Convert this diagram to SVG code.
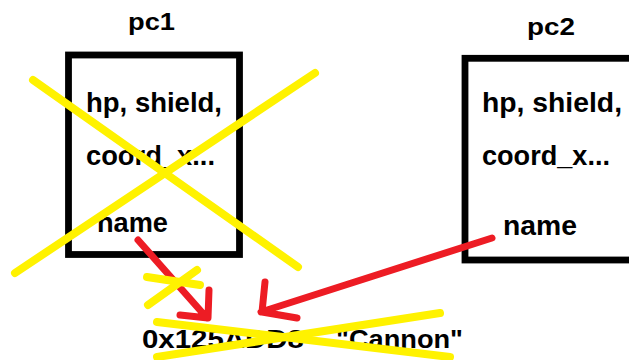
<svg xmlns="http://www.w3.org/2000/svg" width="629" height="360" viewBox="0 0 629 360">
<style>
.box{fill:#fff;stroke:#000;stroke-width:6.8}
.t{font-family:"Liberation Sans",Arial,sans-serif;font-weight:bold;fill:#000}
.f{font-size:27px}
.lbl{font-size:24px}
.red{fill:none;stroke:#ED1C24;stroke-width:7;stroke-linecap:round;stroke-linejoin:round}
.yel{fill:none;stroke:#FFF200;stroke-width:8;stroke-linecap:round}
</style>
<rect width="629" height="360" fill="#fff"/>
<g id="pc1">
<text class="t lbl" x="128" y="30" textLength="47" lengthAdjust="spacingAndGlyphs">pc1</text>
<rect class="box" x="68.5" y="55" width="171" height="199.5"/>
<text class="t f" x="86" y="112" textLength="136" lengthAdjust="spacingAndGlyphs">hp, shield,</text>
<text class="t f" x="86" y="165" textLength="129" lengthAdjust="spacingAndGlyphs">coord_x...</text>
<text class="t f" x="97" y="232" textLength="71" lengthAdjust="spacingAndGlyphs">name</text>
</g>
<g id="pc2">
<text class="t lbl" x="527" y="35" textLength="48" lengthAdjust="spacingAndGlyphs">pc2</text>
<rect class="box" x="465" y="58.3" width="200" height="201.7"/>
<text class="t f" x="482" y="112" textLength="140" lengthAdjust="spacingAndGlyphs">hp, shield,</text>
<text class="t f" x="482" y="165" textLength="128" lengthAdjust="spacingAndGlyphs">coord_x...</text>
<text class="t f" x="503" y="235" textLength="74" lengthAdjust="spacingAndGlyphs">name</text>
</g>
<g id="value">
<text class="t" font-size="25" x="142" y="348" textLength="162" lengthAdjust="spacingAndGlyphs">0x125ADD8</text>
<text class="t" font-size="25" x="336" y="348" textLength="127" lengthAdjust="spacingAndGlyphs">"Cannon"</text>
</g>
<g id="connectors">
<path class="red" d="M138,240 L207,318 M209,290 L208,318 L180,315"/>
<path class="red" d="M492,238 L261,312 M265,282 L262,312 L297,318"/>
</g>
<g id="strikes">
<line class="yel" x1="33" y1="80" x2="298" y2="267"/>
<line class="yel" x1="315" y1="73" x2="15" y2="273"/>
<line class="yel" x1="147" y1="277" x2="200" y2="285"/>
<line class="yel" x1="197" y1="270" x2="148" y2="305"/>
<line class="yel" x1="157" y1="322" x2="450" y2="357"/>
<line class="yel" x1="440" y1="313" x2="157" y2="357"/>
</g>
</svg>
